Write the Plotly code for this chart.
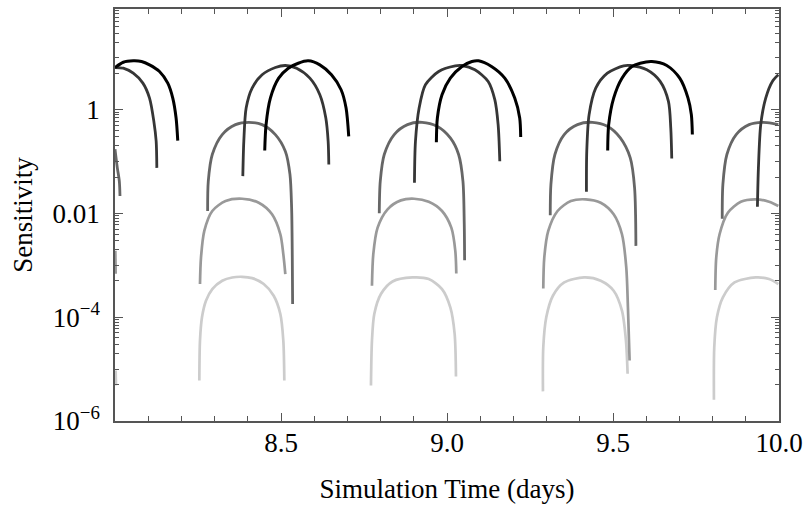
import plotly.graph_objects as go

# ---- data (time in days, log10 of sensitivity) ----
# each series is a list of arches (separate line segments)
black_t = [
    [8.000, 8.025, 8.055, 8.080, 8.104, 8.134, 8.159, 8.174, 8.184, 8.189],
    [8.451, 8.455, 8.468, 8.493, 8.522, 8.552, 8.582, 8.617, 8.652, 8.681, 8.696, 8.704],
    [8.968, 8.971, 8.985, 9.010, 9.045, 9.075, 9.095, 9.134, 9.174, 9.204, 9.219, 9.222],
    [9.484, 9.487, 9.502, 9.527, 9.557, 9.582, 9.617, 9.662, 9.701, 9.726, 9.736, 9.739],
]
black_log = [
    [0.812, 0.914, 0.941, 0.928, 0.864, 0.736, 0.511, 0.223, -0.161, -0.595],
    [-0.787, -0.288, 0.223, 0.607, 0.799, 0.895, 0.941, 0.864, 0.672, 0.384, 0.031, -0.513],
    [-0.628, -0.161, 0.288, 0.607, 0.832, 0.928, 0.941, 0.832, 0.607, 0.223, -0.161, -0.526],
    [-0.787, -0.288, 0.223, 0.607, 0.832, 0.895, 0.928, 0.851, 0.607, 0.223, -0.096, -0.480],
]

dark_t = [
    [8.000, 8.025, 8.055, 8.084, 8.104, 8.117, 8.124, 8.126],
    [8.385, 8.388, 8.395, 8.413, 8.443, 8.483, 8.513, 8.547, 8.587, 8.617, 8.635, 8.642, 8.644],
    [8.902, 8.905, 8.916, 8.935, 8.975, 9.025, 9.045, 9.084, 9.124, 9.144, 9.154, 9.159],
    [9.420, 9.421, 9.428, 9.448, 9.483, 9.532, 9.552, 9.602, 9.642, 9.667, 9.674, 9.677],
    [9.935, 9.938, 9.945, 9.960, 9.980, 9.998],
]
dark_log = [
    [0.812, 0.799, 0.703, 0.511, 0.223, -0.225, -0.609, -1.122],
    [-1.281, -0.609, 0.031, 0.415, 0.672, 0.812, 0.851, 0.799, 0.607, 0.288, -0.161, -0.609, -1.056],
    [-1.410, -0.609, 0.031, 0.480, 0.736, 0.845, 0.851, 0.768, 0.544, 0.192, -0.288, -0.993],
    [-1.582, -0.801, -0.096, 0.415, 0.703, 0.845, 0.851, 0.768, 0.544, 0.159, -0.353, -0.941],
    [-1.871, -1.122, -0.288, 0.223, 0.544, 0.672],
]

mid_t = [
    [8.000, 8.007, 8.013, 8.015],
    [8.279, 8.281, 8.293, 8.323, 8.363, 8.403, 8.443, 8.483, 8.513, 8.527, 8.532, 8.534, 8.535],
    [8.796, 8.799, 8.811, 8.841, 8.881, 8.925, 8.970, 9.010, 9.035, 9.048, 9.052, 9.053],
    [9.311, 9.313, 9.325, 9.353, 9.393, 9.438, 9.483, 9.522, 9.552, 9.565, 9.569],
    [9.829, 9.831, 9.843, 9.871, 9.910, 9.950, 9.980, 9.998],
]
mid_log = [
    [-0.762, -1.122, -1.377, -1.665],
    [-1.953, -1.377, -0.864, -0.480, -0.288, -0.244, -0.288, -0.480, -0.801, -1.248, -1.890, -2.850, -3.745],
    [-1.997, -1.377, -0.864, -0.480, -0.288, -0.244, -0.321, -0.545, -0.864, -1.377, -2.209, -2.900],
    [-2.036, -1.440, -0.864, -0.480, -0.288, -0.244, -0.321, -0.545, -0.930, -1.506, -2.625],
    [-2.101, -1.440, -0.864, -0.480, -0.288, -0.244, -0.263, -0.288],
]

light_t = [
    [8.001, 8.002],
    [8.256, 8.259, 8.269, 8.293, 8.333, 8.383, 8.433, 8.473, 8.498, 8.507, 8.513],
    [8.774, 8.778, 8.791, 8.821, 8.861, 8.901, 8.945, 8.985, 9.013, 9.025, 9.028],
    [9.290, 9.293, 9.305, 9.333, 9.373, 9.418, 9.463, 9.502, 9.527, 9.540, 9.545, 9.550],
    [9.808, 9.811, 9.821, 9.846, 9.885, 9.930, 9.970, 9.998],
]
light_log = [
    [-2.721, -3.163],
    [-3.361, -2.850, -2.337, -1.953, -1.761, -1.717, -1.794, -2.017, -2.401, -2.785, -3.169],
    [-3.394, -2.785, -2.274, -1.920, -1.748, -1.717, -1.775, -1.953, -2.274, -2.721, -3.157],
    [-3.445, -2.850, -2.337, -1.953, -1.761, -1.728, -1.794, -2.017, -2.401, -3.042, -3.810, -4.834],
    [-3.476, -2.850, -2.401, -1.986, -1.775, -1.728, -1.775, -1.857],
]

pale_t = [
    [8.002, 8.003],
    [8.254, 8.256, 8.262, 8.274, 8.293, 8.323, 8.353, 8.383, 8.413, 8.448, 8.478, 8.498, 8.507, 8.510],
    [8.771, 8.774, 8.781, 8.801, 8.836, 8.896, 8.945, 8.985, 9.010, 9.023, 9.027],
    [9.289, 9.290, 9.299, 9.319, 9.353, 9.413, 9.463, 9.502, 9.527, 9.539, 9.544],
    [9.804, 9.805, 9.813, 9.831, 9.866, 9.930, 9.970, 9.998],
]
pale_log = [
    [-5.026, -5.314],
    [-5.218, -4.450, -4.002, -3.682, -3.457, -3.297, -3.234, -3.221, -3.246, -3.361, -3.586, -3.937, -4.450, -5.218],
    [-5.314, -4.450, -3.937, -3.553, -3.311, -3.234, -3.265, -3.457, -3.810, -4.321, -5.141],
    [-5.429, -4.578, -4.002, -3.586, -3.330, -3.234, -3.297, -3.490, -3.874, -4.450, -5.089],
    [-5.589, -4.578, -4.002, -3.618, -3.330, -3.234, -3.265, -3.361],
]

x_tick_vals = [8.5, 9.0, 9.5, 10.0]
x_tick_text = ["8.5", "9.0", "9.5", "10.0"]
x_minor_vals = [8.1, 8.2, 8.3, 8.4, 8.6, 8.7, 8.8, 8.9, 9.1, 9.2, 9.3, 9.4, 9.6, 9.7, 9.8, 9.9]
y_tick_vals = [1e-6, 1e-4, 1e-2, 1]
y_tick_text = ["10<sup>\u22126</sup>", "10<sup>\u22124</sup>", "0.01", "1"]
y_minor_factors = [0.05, 0.1, 0.2, 0.3, 0.4, 0.5, 0.6, 0.7, 0.8, 0.9]
y_minor_majors = [1e-4, 1e-2, 1, 100]

series = [
    ("pale", pale_t, pale_log, "#cccccc", 2.7),
    ("light", light_t, light_log, "#999999", 2.7),
    ("mid", mid_t, mid_log, "#666666", 2.8),
    ("dark", dark_t, dark_log, "#363636", 2.8),
    ("black", black_t, black_log, "#000000", 3.0),
]


def flatten(arches_t, arches_log):
    xs, ys = [], []
    for t, lg in zip(arches_t, arches_log):
        xs.extend(t)
        ys.extend(10 ** v for v in lg)
        xs.append(None)
        ys.append(None)
    return xs, ys


fig = go.Figure()
for name, t, lg, color, w in series:
    xs, ys = flatten(t, lg)
    fig.add_trace(go.Scatter(
        x=xs, y=ys, mode="lines", name=name, connectgaps=False,
        line=dict(color=color, width=w, shape="spline", smoothing=0.8),
        hoverinfo="skip", showlegend=False,
    ))

axis_color = "#555555"
font_family = "Liberation Serif"
y_minor_vals = [m * f for m in y_minor_majors for f in y_minor_factors]

fig.update_layout(
    width=810, height=506,
    margin=dict(l=115, r=26, t=7, b=85),
    paper_bgcolor="white", plot_bgcolor="white",
    font=dict(family=font_family, size=27, color="black"),
    showlegend=False,
)
fig.update_xaxes(
    range=[8.0, 10.0],
    tickmode="array", tickvals=x_tick_vals, ticktext=x_tick_text,
    ticks="inside", ticklen=8, tickwidth=1, tickcolor=axis_color,
    minor=dict(tickmode="array", tickvals=x_minor_vals, ticks="inside",
               ticklen=5, tickwidth=1, tickcolor=axis_color, showgrid=False),
    showline=True, linecolor=axis_color, linewidth=1.5, mirror="allticks",
    showgrid=False, zeroline=False,
    tickfont=dict(family=font_family, size=27, color="black"),
    ticklabelstandoff=-3,
    title=dict(text="Simulation Time (days)",
               font=dict(family=font_family, size=27, color="black"), standoff=22),
)
fig.update_yaxes(
    type="log", range=[-6, 1.94],
    tickmode="array", tickvals=y_tick_vals, ticktext=y_tick_text,
    ticks="inside", ticklen=8, tickwidth=1, tickcolor=axis_color,
    minor=dict(tickmode="array", tickvals=y_minor_vals, ticks="inside",
               ticklen=4, tickwidth=1, tickcolor=axis_color, showgrid=False),
    showline=True, linecolor=axis_color, linewidth=1.5, mirror="allticks",
    showgrid=False, zeroline=False,
    tickfont=dict(family=font_family, size=27, color="black"),
    ticklabelstandoff=8,
    title=dict(text="Sensitivity",
               font=dict(family=font_family, size=27, color="black"), standoff=12),
)

fig.write_html("out.html")
